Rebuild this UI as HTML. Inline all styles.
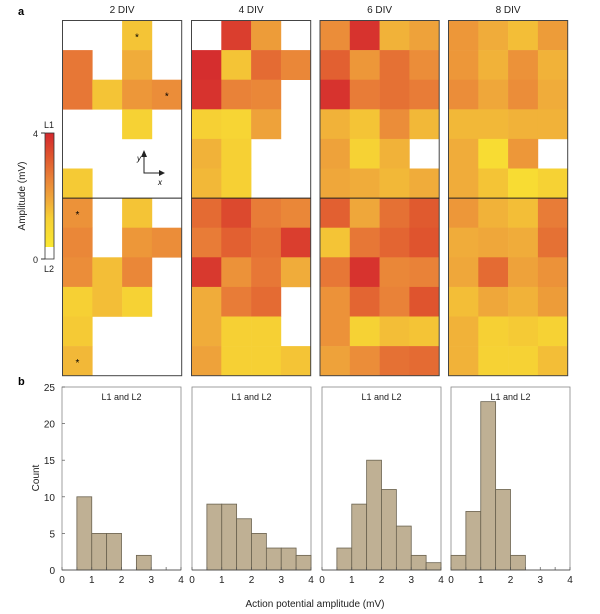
<!DOCTYPE html>
<html><head><meta charset="utf-8"><style>
body{margin:0;background:#fff;}
svg{display:block;font-family:"Liberation Sans",sans-serif;}
</style></head><body>
<svg id="fig" width="600" height="614" viewBox="0 0 600 614">
<text x="18" y="15" font-size="11" font-weight="bold">a</text>
<text x="18" y="385" font-size="11" font-weight="bold">b</text>
<g id="heat"></g>
<g id="cbar"></g>
<g id="hist"></g>
<text x="315" y="607" font-size="10" text-anchor="middle" fill="#222">Action potential amplitude (mV)</text>
<text transform="translate(39,478) rotate(-90)" font-size="10" text-anchor="middle" fill="#222">Count</text>
<text transform="translate(25,196) rotate(-90)" font-size="10" text-anchor="middle" fill="#222">Amplitude (mV)</text>
</svg>
<script>
const divLabels=["2 DIV","4 DIV","6 DIV","8 DIV"];
const N=null;
const heat2=[[N,N,1.2,N],[2.6,N,1.6,N],[2.6,1.2,2.0,2.2],[N,N,0.9,N],[N,N,N,N],[1.1,N,N,N],
[2.1,N,1.2,N],[2.3,N,2.0,2.2],[2.2,1.3,2.3,N],[1.0,1.3,0.9,N],[1.1,N,N,N],[1.4,N,N,N]];
const heat4=[[N,3.6,1.9,N],[3.9,1.2,2.8,2.3],[3.8,2.4,2.3,N],[1.0,0.8,1.8,N],[1.5,1.0,N,N],[1.4,1.0,N,N],
[2.8,3.4,2.5,2.3],[2.5,3.0,2.7,3.6],[3.7,2.1,2.6,1.6],[1.6,2.5,2.8,N],[1.6,1.0,1.0,N],[1.8,1.0,1.0,1.2]];
const heat6=[[2.2,3.8,1.5,1.8],[3.0,2.0,2.7,2.2],[3.8,2.5,2.7,2.5],[1.5,1.2,2.2,1.4],[1.8,0.9,1.5,N],[1.7,1.6,1.4,1.6],
[3.0,1.7,2.7,3.1],[1.2,2.6,2.9,3.2],[2.6,3.8,2.3,2.4],[2.1,2.9,2.4,3.2],[2.1,0.9,1.3,1.2],[1.8,2.2,2.7,2.8]];
const heat8=[[2.0,1.6,1.3,1.9],[2.0,1.5,2.1,1.5],[2.2,1.7,2.2,1.6],[1.4,1.4,1.5,1.5],[1.6,0.5,2.0,N],[1.6,1.2,0.5,0.9],
[2.0,1.5,1.3,2.5],[1.6,1.7,1.6,2.7],[1.7,2.8,1.8,2.1],[1.3,1.7,1.5,1.9],[1.5,1.0,1.1,0.9],[1.5,0.9,0.9,1.3]];
const stars2=[[0,2],[2,3],[6,0],[11,0]];
const binEdges=[0,0.5,1,1.5,2,2.5,3,3.5,4];
const counts2=[0,10,5,5,0,2,0,0];
const counts4=[0,9,9,7,5,3,3,2];
const counts6=[0,3,9,15,11,6,2,1];
const counts8=[2,8,23,11,2,0,0,0];
const yTicks=[0,5,10,15,20,25];
const xTicks=[0,1,2,3,4];

const NS="http://www.w3.org/2000/svg";
function mk(t,a,p){const e=document.createElementNS(NS,t);for(const k in a)e.setAttribute(k,a[k]);p.appendChild(e);return e;}
const stops=[[0,[250,232,50]],[1,[246,208,52]],[1.6,[240,172,58]],[2.4,[233,130,56]],[3.2,[223,84,46]],[4,[212,40,46]]];
function color(v){v=Math.max(0,Math.min(4,v));for(let i=1;i<stops.length;i++){if(v<=stops[i][0]){const a=stops[i-1],b=stops[i];const t=(v-a[0])/(b[0]-a[0]);const c=a[1].map((x,j)=>Math.round(x+(b[1][j]-x)*t));return `rgb(${c})`;}}return "rgb(212,40,46)";}
const heats=[heat2,heat4,heat6,heat8];
const px=[62.5,191.5,320,448.5],cw=29.8,hTop=20.5,rh=29.6;
const H=document.getElementById('heat');
heats.forEach((m,p)=>{
  const g=mk('g',{},H);
  
  
  const t=mk('text',{x:px[p]+2*cw,y:13,'font-size':10,'text-anchor':'middle',fill:'#222'},g);t.textContent=divLabels[p];
  
  
  m.forEach((row,r)=>row.forEach((v,c)=>{if(v===null)return;
    const e=mk('rect',{x:px[p]+c*cw,y:hTop+r*rh,width:cw+0.3,height:rh+0.3,fill:color(v)},g);
    
    
  }));
  mk('rect',{x:px[p],y:hTop,width:4*cw,height:12*rh,fill:'none',stroke:'#444','stroke-width':1},g);
  mk('line',{x1:px[p],x2:px[p]+4*cw,y1:hTop+6*rh,y2:hTop+6*rh,stroke:'#222','stroke-width':1},g);
});
stars2.forEach(s=>{const t=mk('text',{x:px[0]+s[1]*cw+cw/2,y:hTop+s[0]*rh+rh/2+5,'font-size':10,'text-anchor':'middle'},H);t.textContent='*';
  
  });
mk('path',{d:'M144,154 V173 H162',fill:'none',stroke:'#222','stroke-width':1},H);
mk('path',{d:'M141,157 L144,150 L147,157 Z M159,170 L165,173 L159,176 Z',fill:'#222'},H);
let ty=mk('text',{x:137,y:161,'font-size':8,'font-style':'italic'},H);ty.textContent='y';
let tx=mk('text',{x:158,y:185,'font-size':8,'font-style':'italic'},H);tx.textContent='x';
const C=document.getElementById('cbar');
const defs=mk('defs',{},C);const lg=mk('linearGradient',{id:'cg',x1:0,y1:1,x2:0,y2:0},defs);
stops.forEach(s=>mk('stop',{offset:s[0]/4,'stop-color':`rgb(${s[1]})`},lg));
mk('rect',{x:45,y:133,width:9,height:114,fill:'url(#cg)'},C);
mk('rect',{x:45,y:133,width:9,height:126,fill:'none',stroke:'#333','stroke-width':0.8},C);
mk('line',{x1:41,x2:45,y1:133,y2:133,stroke:'#333'},C);mk('line',{x1:41,x2:45,y1:259,y2:259,stroke:'#333'},C);
[['4',33,137],['0',33,263],['L1',44,128],['L2',44,272]].forEach(a=>{const t=mk('text',{x:a[1],y:a[2],'font-size':9,fill:'#222'},C);t.textContent=a[0];});
const counts=[counts2,counts4,counts6,counts8];
const hx0=[62,192,322,451],hw=119,yb=570,yt=387;
const ys=v=>yb-(v/25)*(yb-yt);
const Hs=document.getElementById('hist');
counts.forEach((cs,p)=>{
  const xs=v=>hx0[p]+v/4*hw;
  const g=mk('g',{},Hs);
  
  
  mk('rect',{x:hx0[p],y:yt,width:hw,height:yb-yt,fill:'none',stroke:'#888','stroke-width':0.8},g);
  const tt=mk('text',{x:hx0[p]+hw/2,y:400,'font-size':9,'text-anchor':'middle',fill:'#222'},g);tt.textContent='L1 and L2';
  cs.forEach((c,i)=>{if(!c)return;
    const b=mk('rect',{x:xs(binEdges[i]),y:ys(c),width:xs(binEdges[i+1])-xs(binEdges[i]),height:yb-ys(c),fill:'#bfb094',stroke:'#6b6350','stroke-width':0.8},g);
    
    
  });
  binEdges.forEach(v=>mk('line',{x1:xs(v),x2:xs(v),y1:yb,y2:yb-3,stroke:'#555','stroke-width':0.7},g));
  xTicks.forEach(v=>{const t=mk('text',{x:xs(v),y:yb+13,'font-size':10,'text-anchor':'middle',fill:'#222'},g);t.textContent=v;});
  mk('line',{x1:hx0[p],x2:hx0[p]+hw,y1:yb,y2:yb,stroke:'#444','stroke-width':0.8},g);
});
yTicks.forEach(v=>{const t=mk('text',{x:55,y:ys(v)+4,'font-size':10,'text-anchor':'end',fill:'#222'},Hs);t.textContent=v;
  
  
  mk('line',{x1:62,x2:65,y1:ys(v),y2:ys(v),stroke:'#555','stroke-width':0.7},Hs);});
</script>
</body></html>
